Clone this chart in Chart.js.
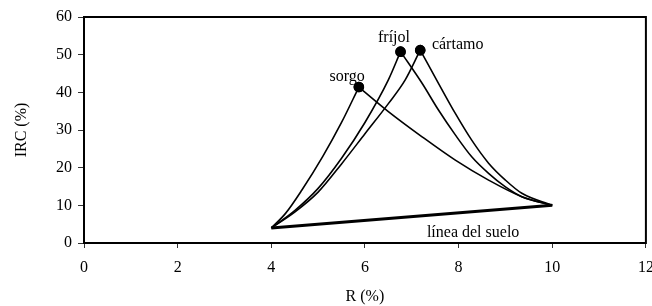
<!DOCTYPE html>
<html>
<head>
<meta charset="utf-8">
<script src="https://cdn.jsdelivr.net/npm/chart.js@4"></script>
<style>
  html, body { margin: 0; padding: 0; background: #fff; }
</style>
</head>
<body>
<canvas id="chart" width="652" height="306"></canvas>
<script>
// values (R % on x, IRC % on y)
const sorgoUpR = [4.0, 4.3, 4.65, 5.1, 5.5, 5.87];
const sorgoUpIRC = [4, 7.8, 14, 23, 32, 41.4];
const sorgoDownR = [5.87, 6.5, 7.22, 7.93, 8.64, 9.35, 10.0];
const sorgoDownIRC = [41.4, 34.9, 28.2, 22, 16.7, 12.3, 10];

const frijolUpR = [4.0, 4.5, 5.0, 5.5, 6.0, 6.5, 6.76];
const frijolUpIRC = [4, 8.6, 14.5, 22.5, 32, 43.3, 50.8];
const frijolDownR = [6.76, 7.22, 7.57, 7.93, 8.28, 8.64, 9.0, 9.35, 10.0];
const frijolDownIRC = [50.8, 42.4, 35.3, 28.7, 22.9, 18.5, 14.9, 12.3, 10];

const cartamoUpR = [4.0, 4.5, 5.0, 5.5, 6.0, 6.5, 6.86, 7.18];
const cartamoUpIRC = [4, 8.2, 13.5, 21, 29, 37, 43.3, 51.2];
const cartamoDownR = [7.18, 7.57, 7.93, 8.28, 8.64, 9.0, 9.35, 10.0];
const cartamoDownIRC = [51.2, 42.4, 34.4, 27.3, 21.2, 16.7, 13.2, 10];

const sueloR = [4.0, 10.0];
const sueloIRC = [4, 10];

const xTicks = [0, 2, 4, 6, 8, 10, 12];
const yTicks = [0, 10, 20, 30, 40, 50, 60];

// text labels next to the curves
const curveLabels = [
  { text: 'sorgo', x: 5.62, y: 44.2 },
  { text: 'fríjol', x: 6.62, y: 54.6 },
  { text: 'cártamo', x: 7.98, y: 52.6 },
  { text: 'línea del suelo', x: 8.31, y: 2.6 }
];

const FONT = '"Liberation Serif", "Times New Roman", serif';

function pts(xs, ys) {
  return xs.map((x, i) => ({ x: x, y: ys[i] }));
}

// one dataset per branch, peak marked with a dot
function branch(xs, ys, peakAtEnd) {
  return {
    data: pts(xs, ys),
    showLine: true,
    borderColor: '#000',
    backgroundColor: '#000',
    borderWidth: 1.6,
    cubicInterpolationMode: 'monotone',
    pointRadius: ctx => {
      const last = ctx.dataset.data.length - 1;
      return (peakAtEnd ? ctx.dataIndex === last : ctx.dataIndex === 0) ? 4.5 : 0;
    },
    pointHoverRadius: 0
  };
}

const framePlugin = {
  id: 'frame',
  afterDatasetsDraw(chart) {
    const { ctx, chartArea: a, scales } = chart;
    ctx.save();
    ctx.strokeStyle = '#000';
    ctx.lineWidth = 2;
    ctx.strokeRect(a.left, a.top, a.width, a.height);

    ctx.fillStyle = '#000';
    ctx.font = '16px ' + FONT;
    ctx.textAlign = 'center';
    ctx.textBaseline = 'middle';
    curveLabels.forEach(l => {
      ctx.fillText(l.text, scales.x.getPixelForValue(l.x), scales.y.getPixelForValue(l.y));
    });
    ctx.restore();
  }
};

new Chart(document.getElementById('chart'), {
  type: 'scatter',
  data: {
    datasets: [
      branch(sorgoUpR, sorgoUpIRC, true),
      branch(sorgoDownR, sorgoDownIRC, false),
      branch(frijolUpR, frijolUpIRC, true),
      branch(frijolDownR, frijolDownIRC, false),
      branch(cartamoUpR, cartamoUpIRC, true),
      branch(cartamoDownR, cartamoDownIRC, false),
      {
        data: pts(sueloR, sueloIRC),
        showLine: true,
        borderColor: '#000',
        borderWidth: 3,
        pointRadius: 0
      }
    ]
  },
  options: {
    responsive: false,
    animation: false,
    layout: { padding: { top: 17, right: 6, left: 0, bottom: 0 } },
    plugins: {
      legend: { display: false },
      tooltip: { enabled: false }
    },
    scales: {
      x: {
        type: 'linear',
        min: 0,
        max: 12,
        afterBuildTicks: s => { s.ticks = xTicks.map(v => ({ value: v })); },
        afterFit: s => { s.height = 63; s.paddingRight = 0; s.paddingLeft = 0; },
        grid: { drawOnChartArea: false, tickLength: 5, color: '#333', lineWidth: 1 },
        border: { display: false },
        ticks: { color: '#000', font: { family: FONT, size: 16 }, padding: 10, maxRotation: 0 },
        title: { display: true, text: 'R (%)', color: '#000', font: { family: FONT, size: 16 }, padding: { top: 2, bottom: 0 } }
      },
      y: {
        type: 'linear',
        min: 0,
        max: 60,
        afterBuildTicks: s => { s.ticks = yTicks.map(v => ({ value: v })); },
        afterFit: s => { s.width = 84; s.paddingTop = 0; s.paddingBottom = 0; },
        grid: { drawOnChartArea: false, tickLength: 6, color: '#333', lineWidth: 1 },
        border: { display: false },
        ticks: { color: '#000', font: { family: FONT, size: 16 }, padding: 6 },
        title: { display: true, text: 'IRC (%)', color: '#000', font: { family: FONT, size: 16 }, padding: { top: 12, bottom: 0 } }
      }
    }
  },
  plugins: [framePlugin]
});
</script>
</body>
</html>
